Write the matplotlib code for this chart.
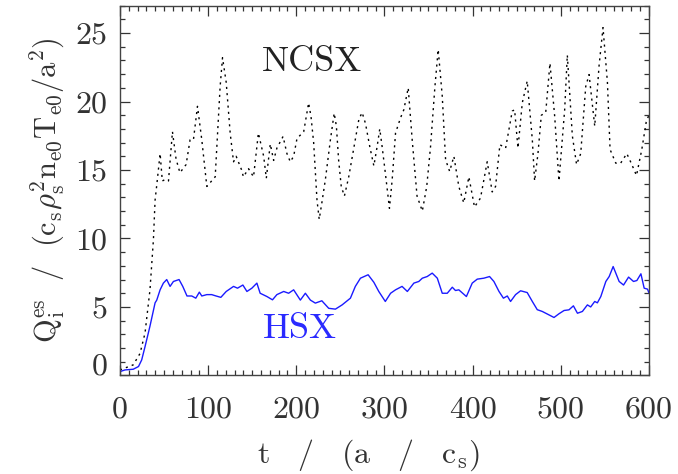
import matplotlib
matplotlib.use('Agg')
import matplotlib.pyplot as plt
import numpy as np
from matplotlib.ticker import MultipleLocator, FixedLocator, FixedFormatter
from matplotlib.transforms import ScaledTranslation

plt.rcParams['mathtext.fontset'] = 'cm'
plt.rcParams['font.family'] = ['cmr10', 'DejaVu Serif']
plt.rcParams['axes.formatter.use_mathtext'] = True

# NCSX heat flux (dotted)
ncsx_t = [0, 15, 22.7, 28.4, 34, 37.9, 39.8, 41.7, 45.5, 48, 51, 55, 59.5, 63.6, 68, 75,
          79.5, 83.3, 87.9, 92.8, 98.5, 108, 113.6, 116.3, 120.5, 125, 128.8, 131.8, 138,
          140, 145.8, 151.5, 157, 163, 166, 170.5, 174.3, 178, 185, 189.4, 193.2, 197,
          200.8, 208.4, 214, 216.7, 219.7, 223.5, 226, 229, 233, 238.7, 243, 245.5, 248,
          251, 254.6, 259.5, 265, 271, 274.7, 278.5, 283.4, 288, 291.7, 294.7, 297.4, 301,
          305.7, 308.8, 312.6, 318.2, 322, 327, 331.5, 337, 343, 348, 352.3, 357.3, 361,
          365.6, 369.4, 374, 378.8, 384.4, 390, 395.8, 402.2, 409, 416.6, 422.3, 426.1, 431,
          437.5, 445, 447.7, 451.5, 456.4, 462, 467.8, 470.4, 474.2, 478, 483, 487.8, 493.2,
          498, 504.5, 507.5, 513.2, 518, 522.7, 528.4, 532.2, 538.6, 543.5, 548, 553, 556,
          562.5, 568, 575, 580, 586, 592, 597, 600]
ncsx_q = [0.4, 0.77, 1.6, 3.1, 6.25, 9.9, 12.8, 13.9, 16.2, 14.2, 14.3, 14.2, 17.8, 15.8,
          14.8, 15.4, 17.2, 17.2, 19.65, 17.2, 13.8, 14.5, 21.1, 23.2, 21.4, 17.7, 15.6, 16.0,
          15.0, 14.5, 15.1, 14.5, 17.7, 16.0, 14.4, 16.9, 15.7, 16.6, 17.45, 16.2, 15.6, 16.0,
          17.3, 17.8, 19.9, 18.9, 17.0, 12.8, 11.4, 12.6, 14.3, 17.2, 19.15, 18.2, 15.75,
          13.8, 13.1, 14.5, 16.5, 18.7, 19.2, 18.4, 16.7, 15.3, 16.7, 18.0, 16.7, 14.8, 12.2,
          14.3, 17.7, 18.8, 19.4, 21.0, 17.2, 13.1, 12.0, 13.8, 16.7, 21.1, 23.8, 20.4, 15.75,
          14.9, 16.0, 13.8, 12.6, 14.5, 12.3, 12.95, 15.6, 13.4, 13.8, 16.85, 16.6, 19.3,
          19.4, 16.6, 19.9, 21.5, 17.2, 14.2, 16.2, 19.0, 19.2, 22.8, 18.9, 14.2, 19.4, 23.4,
          17.5, 15.4, 16.2, 21.1, 21.97, 18.2, 22.6, 25.4, 21.4, 16.5, 15.5, 15.5, 16.2, 15.5,
          14.6, 16.5, 18.5, 19.0]

# HSX heat flux (solid blue)
hsx_t = [0, 5.7, 15, 21, 24.6, 28.4, 34, 39.8, 41.7, 45.5, 49.2, 53, 56.8, 60.6, 67, 71.2,
         76, 81.4, 86, 90, 92.8, 98.5, 104, 109, 114.4, 120.5, 128.8, 133.3, 139.4, 144,
         149.6, 155.3, 159, 166.7, 173, 178, 185.7, 191.3, 197, 204.6, 210.3, 216, 221.6,
         229, 236.8, 244.4, 252, 261.4, 267, 272.8, 281.5, 288, 293.6, 301, 307, 312.6, 320,
         326, 333.4, 339, 343, 348.5, 354.2, 360, 365.6, 371.3, 377, 380.6, 384.4, 393,
         399.6, 405.3, 412.8, 419.3, 424.2, 430, 435, 439.4, 443.1, 448.8, 454.5, 462,
         467.8, 473.4, 479.1, 486.7, 492.4, 498, 503.8, 509.4, 514.4, 519, 524.6, 530.3,
         534, 538.6, 541.6, 545.5, 551.2, 555, 559.5, 562.5, 566.3, 571.3, 577, 582.6,
         586.4, 591, 594.7, 598.5, 600]
hsx_q = [0.28, 0.4, 0.45, 0.65, 1.13, 2.1, 3.6, 5.3, 5.5, 6.25, 6.74, 7.0, 6.5, 6.86, 7.0,
         6.5, 5.8, 5.8, 5.64, 6.08, 5.8, 5.9, 5.9, 5.8, 5.7, 6.13, 6.5, 6.37, 6.6, 6.13, 6.37,
         6.74, 6.0, 5.76, 5.52, 5.9, 6.13, 6.0, 6.25, 5.5, 6.0, 5.5, 5.28, 5.45, 4.9, 4.84,
         5.15, 5.64, 6.5, 7.1, 7.35, 6.8, 6.13, 5.4, 6.0, 6.25, 6.5, 6.13, 6.74, 6.86, 7.1,
         7.22, 7.47, 7.1, 6.0, 6.0, 6.44, 6.2, 6.25, 5.76, 6.74, 7.03, 7.1, 7.22, 6.86, 6.13,
         5.64, 5.8, 5.4, 5.9, 6.18, 6.05, 5.4, 4.8, 4.67, 4.42, 4.23, 4.5, 4.74, 4.79, 5.08,
         4.54, 4.67, 5.15, 5.0, 5.4, 5.3, 5.76, 6.86, 7.22, 7.95, 7.47, 6.86, 6.6, 7.18,
         6.86, 6.93, 7.42, 6.37, 6.3, 6.05]

xticks = [0, 100, 200, 300, 400, 500, 600]
yticks = [0, 5, 10, 15, 20, 25]

TXT = '#333333'

fig = plt.figure(figsize=(6.78, 4.74), dpi=100)
ax = fig.add_axes([0.177, 0.208, 0.78, 0.78])

ax.plot(ncsx_t, ncsx_q, color='black', lw=1.0, linestyle=(0, (1.5, 3.0)))
ax.plot(hsx_t, hsx_q, color='#1a1aff', lw=1.0)

ax.text(218, 22.9, 'NCSX', fontsize=26, color='#222222', ha='center', va='center')
ax.text(204.5, 3.4, 'HSX', fontsize=26, color='#2a2aff', ha='center', va='center')

ax.set_xlim(0, 600)
ax.set_ylim(0, 27)
ax.xaxis.set_major_locator(FixedLocator(xticks))
ax.xaxis.set_major_formatter(FixedFormatter([str(v) for v in xticks]))
ax.xaxis.set_minor_locator(MultipleLocator(10))
ax.yaxis.set_major_locator(FixedLocator(yticks))
ax.yaxis.set_major_formatter(FixedFormatter([str(v) for v in yticks]))
ax.yaxis.set_minor_locator(MultipleLocator(1))

ax.tick_params(which='both', direction='in', top=True, right=True, color='#333333',
               width=0.9, labelsize=23, labelcolor=TXT)
ax.tick_params(which='major', length=7.5)
ax.tick_params(which='minor', length=3.6)
ax.tick_params(axis='x', pad=15)
ax.tick_params(axis='y', pad=9)
for s in ax.spines.values():
    s.set_color('#444444')
    s.set_linewidth(1.0)

# IDL puts the bottom y label a little higher than its tick
fig.canvas.draw()
lab0 = ax.yaxis.get_majorticklabels()[0]
lab0.set_transform(lab0.get_transform() + ScaledTranslation(0, 0.12, fig.dpi_scale_trans))

ax.set_xlabel(r'$\mathrm{t\ \ \ /\ \ \ (a\ \ \ /\ \ \ c_s)}$', fontsize=23, color=TXT)
ax.xaxis.label.set_va('center')
ax.xaxis.set_label_coords(0.47, -0.215)
ax.set_ylabel(r'$\mathrm{Q_i^{es}\ \ /\ \ (c_s\rho_s^2n_{e0}T_{e0}/a^2)}$', fontsize=22,
              color=TXT, labelpad=6)

fig.savefig('out.png', dpi=100)
